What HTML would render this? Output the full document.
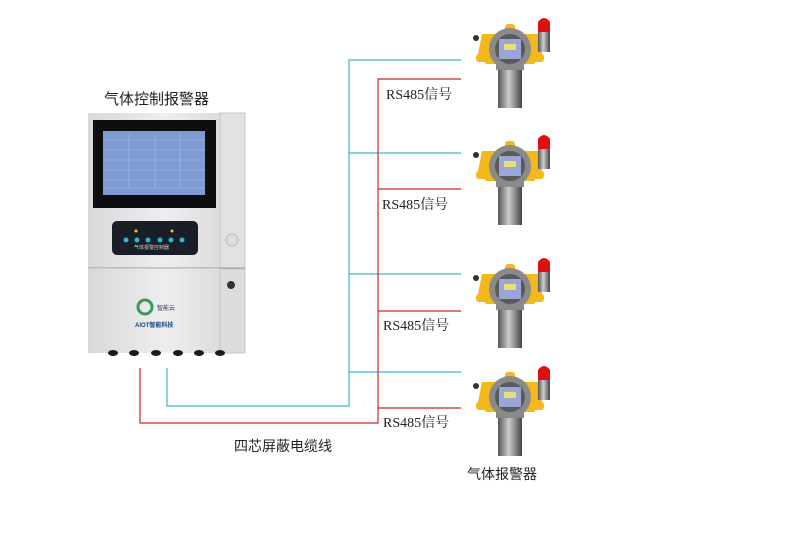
<!DOCTYPE html>
<html><head><meta charset="utf-8"><style>
body{margin:0;background:#fff;width:800px;height:555px;overflow:hidden;position:relative;font-family:"Liberation Serif","Noto Serif CJK SC",serif}
.t{position:absolute;font-size:14px;color:#222;white-space:nowrap}
.s{font-family:"Liberation Sans","Noto Sans CJK SC",sans-serif}
</style></head><body>
<svg width="800" height="555" style="position:absolute;left:0;top:0">
<defs>
<linearGradient id="cab" x1="0" x2="1"><stop offset="0" stop-color="#d8d8da"/><stop offset=".5" stop-color="#eeeef0"/><stop offset="1" stop-color="#d4d4d6"/></linearGradient>
<linearGradient id="pipe" x1="0" x2="1"><stop offset="0" stop-color="#555"/><stop offset=".45" stop-color="#ccc"/><stop offset="1" stop-color="#444"/></linearGradient>
<g id="det">
<rect x="26" y="44" width="24" height="40" fill="url(#pipe)"/>
<rect x="24" y="40" width="28" height="6" fill="#888"/>
<path d="M10 10 L66 10 L70 30 L62 40 L14 40 L6 30 Z" fill="#f3b81c"/>
<rect x="33" y="0" width="10" height="10" rx="3" fill="#f3b81c"/>
<rect x="4" y="30" width="12" height="8" rx="3" fill="#f3b81c"/>
<rect x="60" y="30" width="12" height="8" rx="3" fill="#f3b81c"/>
<circle cx="38" cy="25" r="21" fill="#8a8a8a"/>
<circle cx="38" cy="25" r="15" fill="#5a5a5a"/>
<rect x="27" y="15" width="22" height="20" fill="#9aa6d8"/>
<rect x="32" y="20" width="12" height="6" fill="#e7e070"/>
<rect x="66" y="8" width="12" height="20" fill="url(#pipe)"/>
<path d="M66 8 L66 -2 Q72 -10 78 -2 L78 8 Z" fill="#e01010"/>
<circle cx="4" cy="14" r="3" fill="#333"/>
</g>
</defs>
<g fill="none" stroke-width="1.2">
<path d="M167 368 V406 H349 V60 H461 M349 153 H461 M349 274 H461 M349 372 H461" stroke="#3db8d0"/>
<path d="M140 368 V423 H378 V79 H461 M378 189 H461 M378 311 H461 M378 408 H461" stroke="#c8282a"/>
</g>
<rect x="88" y="113" width="157" height="155" fill="url(#cab)"/>
<rect x="220" y="113" width="25" height="155" fill="#e2e2e4" stroke="#c8c8c8"/>
<rect x="88" y="269" width="157" height="84" fill="url(#cab)"/>
<rect x="220" y="269" width="25" height="84" fill="#dcdcde" stroke="#c8c8c8"/>
<line x1="88" y1="268" x2="245" y2="268" stroke="#999"/>
<rect x="93" y="120" width="123" height="88" fill="#0e0e10"/>
<rect x="103" y="131" width="102" height="64" fill="#7f9bd4"/>
<g stroke="#aac0ea" stroke-width=".6">
<line x1="103" y1="140" x2="205" y2="140"/><line x1="103" y1="150" x2="205" y2="150"/><line x1="103" y1="160" x2="205" y2="160"/><line x1="103" y1="170" x2="205" y2="170"/><line x1="103" y1="180" x2="205" y2="180"/><line x1="103" y1="188" x2="205" y2="188"/>
<line x1="129" y1="134" x2="129" y2="188"/><line x1="155" y1="134" x2="155" y2="188"/><line x1="180" y1="134" x2="180" y2="188"/>
</g>
<rect x="112" y="221" width="86" height="34" rx="5" fill="#1a1e26"/>
<g fill="#2ab8d0"><circle cx="126" cy="240" r="2.5"/><circle cx="137" cy="240" r="2.5"/><circle cx="148" cy="240" r="2.5"/><circle cx="160" cy="240" r="2.5"/><circle cx="171" cy="240" r="2.5"/><circle cx="182" cy="240" r="2.5"/></g>
<circle cx="136" cy="231" r="1.5" fill="#e8d020"/><circle cx="172" cy="231" r="1.5" fill="#e8d020"/>
<circle cx="232" cy="240" r="6" fill="#ddd" stroke="#bbb"/>
<circle cx="231" cy="285" r="4" fill="#333"/>
<circle cx="145" cy="307" r="7" fill="none" stroke="#3a9a5a" stroke-width="3"/>
<text x="157" y="310" font-size="6" fill="#336" font-family="Liberation Sans">智能云</text>
<text x="135" y="327" font-size="6" fill="#1a4a7a" font-family="Liberation Sans" font-weight="bold">AIOT智能科技</text>
<g fill="#1a1a1a"><ellipse cx="113" cy="353" rx="5" ry="3"/><ellipse cx="134" cy="353" rx="5" ry="3"/><ellipse cx="156" cy="353" rx="5" ry="3"/><ellipse cx="178" cy="353" rx="5" ry="3"/><ellipse cx="199" cy="353" rx="5" ry="3"/><ellipse cx="220" cy="353" rx="5" ry="3"/></g>
<use href="#det" x="472" y="24"/>
<use href="#det" x="472" y="141"/>
<use href="#det" x="472" y="264"/>
<use href="#det" x="472" y="372"/>
</svg>
<div class="t s" style="left:104px;top:88px;font-size:15px">气体控制报警器</div>
<div class="t s" style="left:134px;top:244px;font-size:5px;color:#ccc">气体报警控制器</div>
<div class="t" style="left:386px;top:84px">RS485信号</div>
<div class="t" style="left:382px;top:194px">RS485信号</div>
<div class="t" style="left:383px;top:315px">RS485信号</div>
<div class="t" style="left:383px;top:412px">RS485信号</div>
<div class="t s" style="left:234px;top:436px">四芯屏蔽电缆线</div>
<div class="t s" style="left:467px;top:464px">气体报警器</div>
</body></html>
